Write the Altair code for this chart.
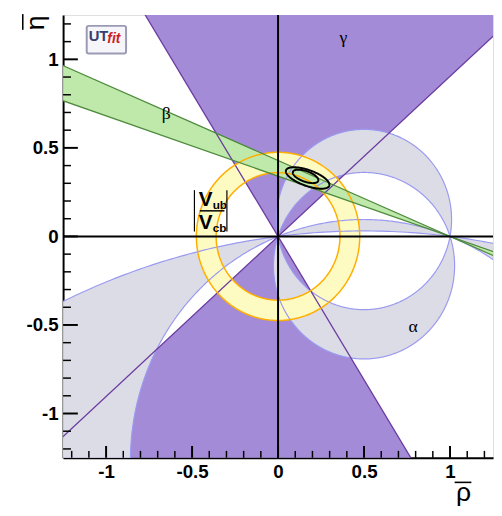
import numpy as np
import pandas as pd
import altair as alt

# ---------------- values ----------------
gamma_limits_deg = [42.1, 121.7]            # gamma band: wedge at (0,0) and its mirror
beta_limits_deg = [18.8, 23.2]              # beta band: double wedge at (1,0)
alpha_bands_deg = [[79.2, 108.3], [158.4, 172.9]]   # alpha bands (arcs through (0,0),(1,0))
rb_limits = [0.36, 0.475]                   # |Vub/Vcb| ring radii
contour_centers = [[0.172, 0.330], [0.160, 0.339]]
contour_axes = [[0.133, 0.045], [0.078, 0.030]]
contour_tilt_deg = [-19.0, -19.0]

x_major = [-1, -0.5, 0, 0.5, 1]
y_major = [-1, -0.5, 0, 0.5, 1]
x_minor = [-1.2, -1.1, -0.9, -0.8, -0.7, -0.6, -0.4, -0.3, -0.2, -0.1,
           0.1, 0.2, 0.3, 0.4, 0.6, 0.7, 0.8, 0.9, 1.1, 1.2]
y_minor = [-1.2, -1.1, -0.9, -0.8, -0.7, -0.6, -0.4, -0.3, -0.2, -0.1,
           0.1, 0.2, 0.3, 0.4, 0.6, 0.7, 0.8, 0.9, 1.1, 1.2]

greek_labels = ["β", "γ", "α"]
greek_rho = [-0.65, 0.38, 0.785]
greek_eta = [0.69, 1.12, -0.51]

# ---------------- colours ----------------
PURPLE_FILL = "#a48bd8"
PURPLE_LINE = "#6a3b9e"
GRAY_FILL = "#dcdce7"
GRAY_LINE = "#9a9af0"
YELLOW_FILL = "#fdfbc2"
ORANGE_LINE = "#ffae00"
GREEN_FILL = "#bfe9aa"
GREEN_LINE = "#4d8a3c"

W, H = 437, 450
DOM = [-1.25, 1.25]
L = 4.0

xs = alt.Scale(domain=DOM, nice=False, zero=False)
ys = alt.Scale(domain=DOM, nice=False, zero=False)

lab_expr = "'' + datum.value"
AX = dict(ticks=False, tickSize=0, domain=True, domainColor="black",
          domainWidth=2, grid=False, title=None, labelFont="Liberation Sans",
          labelFontWeight="bold", labelFontSize=19, labelColor="black",
          labelPadding=5, labelExpr=lab_expr, labelFlush=False, labelOverlap=False)
x_axis = alt.Axis(values=x_major, **AX)
y_axis = alt.Axis(values=y_major, **AX)


def poly_frame(polys):
    rows = []
    for k, (px, py) in enumerate(polys):
        for i, (a, b) in enumerate(zip(px, py)):
            rows.append({"id": k, "i": i, "x": float(a), "y": float(b)})
    return pd.DataFrame(rows)


def circ_arc(c, t0, t1, n=400):
    R = np.sqrt(0.25 + c * c)
    t = np.linspace(t0, t1, n)
    return 0.5 + R * np.cos(t), c + R * np.sin(t)


# gamma wedges
gpolys = []
g1, g2 = np.radians(gamma_limits_deg)
for off in (0.0, np.pi):
    px = [0, L * np.cos(g1 + off), L * np.cos(g2 + off), 0]
    py = [0, L * np.sin(g1 + off), L * np.sin(g2 + off), 0]
    gpolys.append((px, py))
gamma_df = poly_frame(gpolys)

# alpha crescents (symmetric differences of circle pairs)
apolys = []
acircles = []
for a1, a2 in alpha_bands_deg:
    c1 = 0.5 / np.tan(np.radians(a1))
    c2 = 0.5 / np.tan(np.radians(a2))
    f1 = np.arctan2(c1, 0.5)
    f2 = np.arctan2(c2, 0.5)
    ux1, uy1 = circ_arc(c1, -f1, np.pi + f1)
    ux2, uy2 = circ_arc(c2, np.pi + f2, -f2)
    apolys.append((np.r_[ux1, ux2], np.r_[uy1, uy2]))
    lx1, ly1 = circ_arc(c1, np.pi + f1, 2 * np.pi - f1)
    lx2, ly2 = circ_arc(c2, 2 * np.pi - f2, np.pi + f2)
    apolys.append((np.r_[lx1, lx2], np.r_[ly1, ly2]))
    for c in (c1, c2):
        acircles.append(circ_arc(c, 0, 2 * np.pi, 900))
alpha_df = poly_frame(apolys)
alpha_circ_df = poly_frame(acircles)

# Rb ring
t = np.linspace(0, 2 * np.pi, 400)
r_in, r_out = rb_limits
ring_df = poly_frame([(np.r_[r_out * np.cos(t), r_in * np.cos(t[::-1])],
                       np.r_[r_out * np.sin(t), r_in * np.sin(t[::-1])])])
ring_circ_df = poly_frame([(r * np.cos(t), r * np.sin(t)) for r in rb_limits])

# beta band
b1, b2 = np.radians(beta_limits_deg)
bpolys = [
    ([1, 1 - L * np.cos(b1), 1 - L * np.cos(b2), 1], [0, L * np.sin(b1), L * np.sin(b2), 0]),
    ([1, 1 + L * np.cos(b1), 1 + L * np.cos(b2), 1], [0, -L * np.sin(b1), -L * np.sin(b2), 0]),
]
beta_df = poly_frame(bpolys)

# straight boundary lines
gamma_lines = pd.DataFrame({
    "x": [-L * np.cos(g) for g in (g1, g2)], "y": [-L * np.sin(g) for g in (g1, g2)],
    "x2": [L * np.cos(g) for g in (g1, g2)], "y2": [L * np.sin(g) for g in (g1, g2)]})
beta_lines = pd.DataFrame({
    "x": [1 - L * np.cos(b) for b in (b1, b2)], "y": [L * np.sin(b) for b in (b1, b2)],
    "x2": [1 + L * np.cos(b) for b in (b1, b2)], "y2": [-L * np.sin(b) for b in (b1, b2)]})

# contours
tt = np.linspace(0, 2 * np.pi, 200)
cpolys = []
for (cx, cy), (a, b), th in zip(contour_centers, contour_axes, contour_tilt_deg):
    th = np.radians(th)
    ex = a * np.cos(tt)
    ey = b * np.sin(tt)
    cpolys.append((cx + ex * np.cos(th) - ey * np.sin(th), cy + ex * np.sin(th) + ey * np.cos(th)))
cont_df = poly_frame(cpolys)


def X():
    return alt.X("x:Q", scale=xs, axis=x_axis)


def Y():
    return alt.Y("y:Q", scale=ys, axis=y_axis)


def filled(df, col):
    return alt.Chart(df).mark_line(fill=col, strokeWidth=0, clip=True).encode(
        x=X(), y=Y(), detail="id:N", order="i:Q")


def stroked(df, col, w):
    return alt.Chart(df).mark_line(stroke=col, strokeWidth=w, clip=True).encode(
        x=X(), y=Y(), detail="id:N", order="i:Q")


def seg(df, col, w):
    return alt.Chart(df).mark_rule(stroke=col, strokeWidth=w, clip=True).encode(
        x=X(), y=Y(), x2="x2:Q", y2="y2:Q")


dummy = pd.DataFrame({"a": [0]})

zero_v = alt.Chart(pd.DataFrame({"x": [0]})).mark_rule(stroke="black", strokeWidth=2).encode(
    x=X(), y=alt.value(0), y2=alt.value(H))
zero_h = alt.Chart(pd.DataFrame({"y": [0]})).mark_rule(stroke="black", strokeWidth=2).encode(
    y=Y(), x=alt.value(0), x2=alt.value(W))

xt_major = alt.Chart(pd.DataFrame({"x": x_major})).mark_rule(stroke="black", strokeWidth=2).encode(
    x=X(), y=alt.value(H), y2=alt.value(H - 12))
xt_minor = alt.Chart(pd.DataFrame({"x": x_minor})).mark_rule(stroke="black", strokeWidth=1.5).encode(
    x=X(), y=alt.value(H), y2=alt.value(H - 7))
yt_major = alt.Chart(pd.DataFrame({"y": y_major})).mark_rule(stroke="black", strokeWidth=2).encode(
    y=Y(), x=alt.value(0), x2=alt.value(15))
yt_minor = alt.Chart(pd.DataFrame({"y": y_minor})).mark_rule(stroke="black", strokeWidth=1.5).encode(
    y=Y(), x=alt.value(0), x2=alt.value(8))

greek = alt.Chart(pd.DataFrame({"t": greek_labels, "x": greek_rho, "y": greek_eta})).mark_text(
    font="Liberation Serif", fontSize=18, color="black").encode(x=X(), y=Y(), text="t:N")


def ptext(txt, x, y, size, align="left", weight="bold", font="Liberation Sans", color="black",
          style="normal", angle=0, baseline="alphabetic"):
    return alt.Chart(dummy).mark_text(text=txt, fontSize=size, fontWeight=weight, font=font,
                                      align=align, baseline=baseline, color=color,
                                      fontStyle=style, angle=angle).encode(
        x=alt.value(x), y=alt.value(y))


def prule(x, y, x2, y2, w=1.5, col="black"):
    return alt.Chart(dummy).mark_rule(stroke=col, strokeWidth=w).encode(
        x=alt.value(x), y=alt.value(y), x2=alt.value(x2), y2=alt.value(y2))


# |Vub/Vcb| annotation
vlabel = [
    ptext("V", 145, 194, 21, align="center"),
    ptext("ub", 152, 197, 12),
    prule(139, 199, 164, 199, 1.5),
    ptext("V", 145, 217, 21, align="center"),
    ptext("cb", 152, 220, 12),
    prule(133.5, 178, 133.5, 220, 1.2),
    prule(166.5, 178, 166.5, 220, 1.2),
]

# axis titles
titles = [
    ptext("ρ", 407, 494, 27, align="center", weight="normal"),
    prule(398, 475, 415, 475, 1.6),
    ptext("η", -27, 8, 27, align="center", weight="normal", angle=270, baseline="middle"),
    prule(-41, -1, -41, 15, 1.6),
]

# UTfit logo
logo = [
    alt.Chart(dummy).mark_rect(fill="#f6f6fa", stroke="#9a9ab4", strokeWidth=2, cornerRadius=2).encode(
        x=alt.value(24), x2=alt.value(64), y=alt.value(11), y2=alt.value(39)),
    ptext("UT", 26, 26, 15, color="#34406e"),
    ptext("fit", 45, 28, 14, color="#cc2020", style="italic"),
]

chart = alt.layer(
    filled(gamma_df, PURPLE_FILL),
    filled(alpha_df, GRAY_FILL),
    filled(ring_df, YELLOW_FILL),
    filled(beta_df, GREEN_FILL),
    stroked(alpha_circ_df, GRAY_LINE, 1.2),
    seg(gamma_lines, PURPLE_LINE, 1.3),
    stroked(ring_circ_df, ORANGE_LINE, 1.5),
    seg(beta_lines, GREEN_LINE, 1.3),
    zero_v, zero_h,
    stroked(cont_df, "black", 2),
    greek,
    xt_major, xt_minor, yt_major, yt_minor,
    *vlabel, *titles, *logo,
).properties(
    width=W, height=H,
    autosize=alt.AutoSizeParams(type="none"),
    padding={"left": 56, "top": 3, "right": 1, "bottom": 55},
).configure_view(stroke="black", strokeWidth=1).configure(background="white")

chart.save("out.html", embed_options={"renderer": "svg", "actions": False})
